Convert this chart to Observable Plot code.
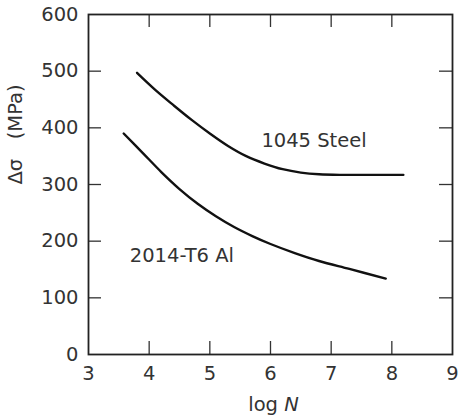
<!DOCTYPE html>
<html>
<head>
<meta charset="utf-8">
<script src="https://cdn.jsdelivr.net/npm/d3@7"></script>
<script src="https://cdn.jsdelivr.net/npm/@observablehq/plot@0.6"></script>
<style>
  html, body { margin: 0; padding: 0; background: #fff; }
</style>
</head>
<body>
<div id="chart"></div>
<script>
// Tick values
const xTicks = [3, 4, 5, 6, 7, 8, 9];
const yTicks = [0, 100, 200, 300, 400, 500, 600];
const xInnerTicks = [4, 5, 6, 7, 8];
const yInnerTicks = [100, 200, 300, 400, 500];

// 1045 Steel curve (log N, stress amplitude MPa)
const steelLogN   = [3.80, 4.10, 4.40, 4.70, 5.00, 5.30, 5.60, 5.90, 6.20, 6.50, 6.80, 7.20, 7.70, 8.19];
const steelStress = [497, 467, 440, 414, 390, 368, 350, 337, 327, 321, 318, 317, 317, 317];

// 2014-T6 Al curve
const alLogN   = [3.58, 3.90, 4.20, 4.50, 4.80, 5.10, 5.40, 5.70, 6.00, 6.40, 6.80, 7.30, 7.90];
const alStress = [390, 355, 322, 292, 266, 244, 225, 209, 195, 179, 165, 151, 134];

// Curve labels
const curveNames  = ["1045 Steel", "2014-T6 Al"];
const curveLabelX = [5.85, 3.68];
const curveLabelY = [378, 174];

const xLabel = "log N";
const yLabel = "Δσ\u2003(MPa)";

const W = 461, H = 417;
const mL = 88, mR = 9, mT = 14, mB = 63;
const frameW = W - mL - mR, frameH = H - mT - mB;
const tickLen = 13;

const steel = steelLogN.map((x, i) => ({x, y: steelStress[i]}));
const al = alLogN.map((x, i) => ({x, y: alStress[i]}));
const labels = curveNames.map((t, i) => ({t, x: curveLabelX[i], y: curveLabelY[i]}));

const chart = Plot.plot({
  width: W, height: H,
  marginLeft: mL, marginRight: mR, marginTop: mT, marginBottom: mB,
  style: {fontFamily: "DejaVu Sans", fontSize: "19.5px", color: "#333", background: "#fff"},
  x: {domain: [3, 9]},
  y: {domain: [0, 600]},
  marks: [
    Plot.axisX({ticks: xTicks, tickSize: 0, tickPadding: 12, label: null, tickFormat: d => String(d)}),
    Plot.axisY({ticks: yTicks, tickSize: 0, tickPadding: 10, label: null, tickFormat: d => String(d)}),
    // inward ticks on all four sides
    Plot.tickX(xInnerTicks, {x: d => d, insetTop: frameH - tickLen, stroke: "#333", strokeWidth: 1.3}),
    Plot.tickX(xInnerTicks, {x: d => d, insetBottom: frameH - tickLen, stroke: "#333", strokeWidth: 1.3}),
    Plot.tickY(yInnerTicks, {y: d => d, insetRight: frameW - tickLen, stroke: "#333", strokeWidth: 1.3}),
    Plot.tickY(yInnerTicks, {y: d => d, insetLeft: frameW - tickLen, stroke: "#333", strokeWidth: 1.3}),
    Plot.frame({stroke: "#222", strokeWidth: 1.8}),
    Plot.line(steel, {x: "x", y: "y", curve: "catmull-rom", stroke: "#111", strokeWidth: 2.4}),
    Plot.line(al, {x: "x", y: "y", curve: "catmull-rom", stroke: "#111", strokeWidth: 2.4}),
    Plot.text(labels, {x: "x", y: "y", text: "t", textAnchor: "start", lineAnchor: "middle", fill: "#333"}),
    Plot.text([xLabel], {frameAnchor: "bottom", dx: 3, dy: 43, lineAnchor: "top", fill: "#333"}),
    Plot.text([yLabel], {frameAnchor: "left", dx: -73, rotate: -90, lineAnchor: "middle", fill: "#333"})
  ]
});

// italicize N in the x-axis label
d3.select(chart).selectAll("text").each(function() {
  if (this.textContent === xLabel) {
    const el = d3.select(this);
    el.text(null);
    el.append("tspan").text("log ");
    el.append("tspan").attr("font-style", "italic").text("N");
  }
});

document.getElementById("chart").appendChild(chart);
</script>
</body>
</html>
